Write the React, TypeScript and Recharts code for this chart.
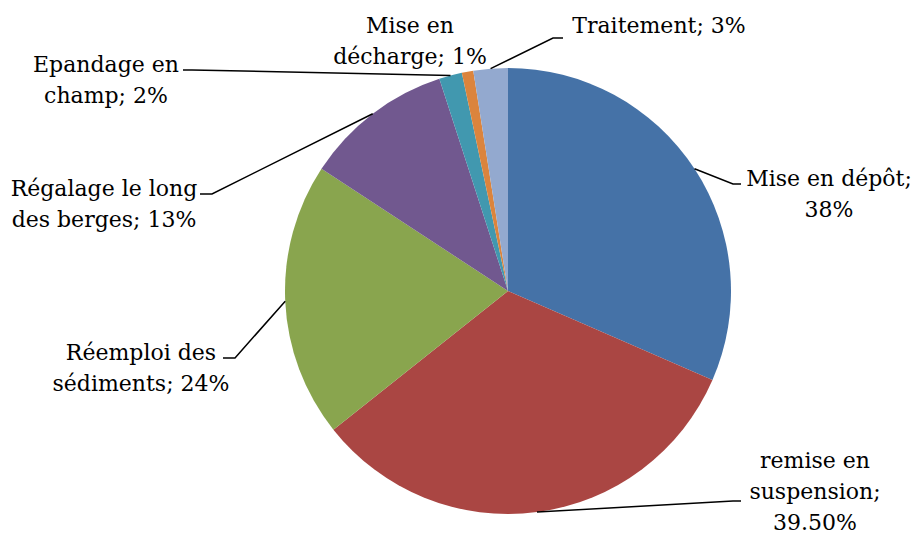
import { PieChart, Pie, Cell } from 'recharts';

// Destination des sédiments (valeurs telles qu'affichées)
const categories = [
    'Mise en dépôt',
    'remise en suspension',
    'Réemploi des sédiments',
    'Régalage le long des berges',
    'Epandage en champ',
    'Mise en décharge',
    'Traitement',
];
const values = [38, 39.5, 24, 13, 2, 1, 3];
const valueLabels = ['38%', '39.50%', '24%', '13%', '2%', '1%', '3%'];

const COLORS = [
    '#4572A7', // bleu
    '#AA4643', // rouge
    '#89A54E', // vert
    '#71588F', // violet
    '#4198AF', // turquoise
    '#DB843D', // orange
    '#93A9CF', // bleu clair
];

// how each label is broken into lines, and where it sits
const LABEL_LINES = [
    ['Mise en dépôt;', '38%'],
    ['remise en', 'suspension;', '39.50%'],
    ['Réemploi des', 'sédiments; 24%'],
    ['Régalage le long', 'des berges; 13%'],
    ['Epandage en', 'champ; 2%'],
    ['Mise en', 'décharge; 1%'],
    ['Traitement; 3%'],
];

const LABEL_LAYOUT = [
    { x: 829, y: 186, elbow: [733, 184], end: [741, 184] },
    { x: 815, y: 468, elbow: [733, 501], end: [741, 501] },
    { x: 141, y: 360, elbow: [235, 358], end: [223, 358] },
    { x: 104, y: 196, elbow: [212, 194], end: [200, 194] },
    { x: 106, y: 72, elbow: [192, 70], end: [183, 70] },
    { x: 410, y: 33, elbow: null, end: null },
    { x: 659, y: 33, elbow: [553, 38], end: [563, 38] },
];

const LINE_H = 31;
const RADIAN = Math.PI / 180;

const data = categories.map((name, i) => ({ name, value: values[i], label: valueLabels[i] }));

function renderLabel(props: any) {
    const { cx, cy, midAngle, outerRadius, index } = props;
    const lay = LABEL_LAYOUT[index];
    const lines = LABEL_LINES[index];
    const sx = cx + outerRadius * Math.cos(-midAngle * RADIAN);
    const sy = cy + outerRadius * Math.sin(-midAngle * RADIAN);
    return (
        <g key={`lbl-${index}`}>
            {lay.elbow && (
                <polyline
                    points={`${sx},${sy} ${lay.elbow[0]},${lay.elbow[1]} ${lay.end[0]},${lay.end[1]}`}
                    fill="none"
                    stroke="#000"
                    strokeWidth={1.5}
                />
            )}
            <text
                x={lay.x}
                y={lay.y}
                textAnchor="middle"
                fill="#000"
                style={{ fontFamily: '"DejaVu Serif", serif', fontSize: 22 }}
            >
                {lines.map((l, i) => (
                    <tspan key={i} x={lay.x} y={lay.y + i * LINE_H}>{l}</tspan>
                ))}
            </text>
        </g>
    );
}

export default function App() {
    return (
        <div style={{ position: 'absolute', left: 0, top: 0, width: 914, height: 535, background: '#fff' }}>
            <PieChart width={914} height={535} margin={{ top: 0, right: 0, bottom: 0, left: 0 }}>
                <Pie
                    data={data}
                    dataKey="value"
                    nameKey="name"
                    cx={508}
                    cy={291}
                    outerRadius={223}
                    startAngle={90}
                    endAngle={-270}
                    stroke="none"
                    label={renderLabel}
                    labelLine={false}
                    isAnimationActive={false}
                >
                    {data.map((entry, index) => (
                        <Cell key={`cell-${index}`} fill={COLORS[index % COLORS.length]} />
                    ))}
                </Pie>
            </PieChart>
        </div>
    );
}
